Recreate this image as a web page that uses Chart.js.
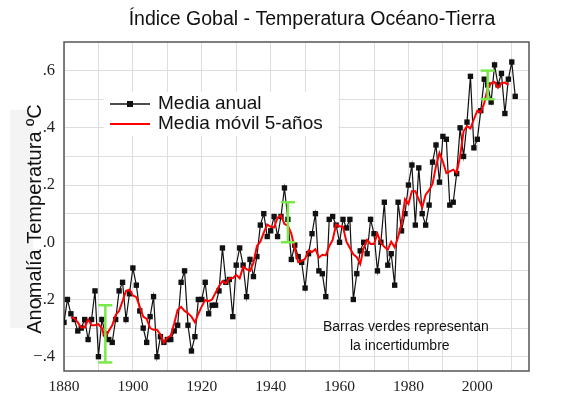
<!DOCTYPE html>
<html>
<head>
<meta charset="utf-8">
<script src="https://cdn.jsdelivr.net/npm/chart.js@4.4.0/dist/chart.umd.min.js"></script>
<style>
  html, body { margin: 0; padding: 0; background: #fff; }
</style>
</head>
<body>
<canvas id="tempChart" width="565" height="416"></canvas>
<script>
// Datos
const firstYear = 1880;
const annual = [
  -0.28, -0.20, -0.25, -0.27, -0.31, -0.30, -0.27, -0.34, -0.27, -0.17,
  -0.40, -0.27, -0.32, -0.34, -0.35, -0.27, -0.17, -0.14, -0.27, -0.18,
  -0.09, -0.15, -0.24, -0.30, -0.35, -0.26, -0.19, -0.40, -0.33, -0.35,
  -0.34, -0.34, -0.31, -0.29, -0.14, -0.10, -0.29, -0.38, -0.33, -0.20,
  -0.20, -0.14, -0.25, -0.22, -0.22, -0.17, -0.02, -0.14, -0.13, -0.26,
  -0.08, -0.02, -0.08, -0.19, -0.06, -0.12, -0.05, 0.06, 0.10, 0.02,
  0.04, 0.09, 0.02, 0.09, 0.19, 0.08, -0.06, -0.01, -0.05, -0.07,
  -0.16, -0.04, 0.03, 0.10, -0.10, -0.11, -0.19, 0.08, 0.09, 0.06,
  0.00, 0.08, 0.05, 0.08, -0.20, -0.11, -0.03, 0.00, -0.04, 0.08,
  0.03, -0.10, 0.00, 0.14, -0.08, -0.04, -0.15, 0.14, 0.04, 0.10,
  0.20, 0.27, 0.06, 0.26, 0.10, 0.06, 0.13, 0.28, 0.34, 0.21,
  0.37, 0.36, 0.13, 0.14, 0.24, 0.40, 0.30, 0.42, 0.58, 0.33,
  0.36, 0.46, 0.57, 0.55, 0.49, 0.62, 0.55, 0.59, 0.45, 0.57,
  0.63, 0.51
];

const firstAvgYear = 1882;
const movingAvg = [
  -0.262, -0.266, -0.280, -0.298, -0.298, -0.270, -0.290, -0.290,
  -0.286, -0.300, -0.336, -0.310, -0.290, -0.254, -0.240, -0.206, -0.170, -0.166,
  -0.186, -0.192, -0.226, -0.260, -0.268, -0.300, -0.306, -0.306, -0.322, -0.352,
  -0.334, -0.326, -0.284, -0.236, -0.226, -0.240, -0.248, -0.260, -0.280, -0.250,
  -0.224, -0.202, -0.206, -0.200, -0.176, -0.154, -0.136, -0.144, -0.126, -0.126,
  -0.114, -0.126, -0.086, -0.094, -0.100, -0.072, -0.014, 0.002, 0.034, 0.062,
  0.054, 0.052, 0.086, 0.094, 0.064, 0.058, 0.030, -0.022, -0.070, -0.066,
  -0.058, -0.028, -0.034, -0.024, -0.054, -0.044, -0.046, -0.014, 0.008, 0.062,
  0.056, 0.054, 0.002, -0.020, -0.042, -0.052, -0.076, -0.020, 0.008, -0.006,
  -0.006, 0.030, -0.002, -0.016, -0.026, 0.002, -0.018, 0.018, 0.066, 0.150,
  0.134, 0.178, 0.178, 0.150, 0.122, 0.166, 0.182, 0.204, 0.266, 0.312,
  0.282, 0.242, 0.248, 0.254, 0.242, 0.300, 0.388, 0.406, 0.398, 0.430,
  0.460, 0.454, 0.486, 0.538, 0.556, 0.560, 0.540, 0.556, 0.558, 0.550
];

// Barras de incertidumbre
const errYears = [1892, 1945, 2003];
const errLow = [-0.42, 0.00, 0.50];
const errHigh = [-0.22, 0.14, 0.60];

// Ejes
const xGridYears = [1880, 1890, 1900, 1910, 1920, 1930, 1940, 1950, 1960, 1970, 1980, 1990, 2000, 2010];
const xLabelYears = [1880, 1900, 1920, 1940, 1960, 1980, 2000];
const yGridValues = [-0.4, -0.3, -0.2, -0.1, 0, 0.1, 0.2, 0.3, 0.4, 0.5, 0.6];
const yTickLabels = ['\u2212.4', '', '\u2212.2', '', '.0', '', '.2', '', '.4', '', '.6'];

const green = '#7be84a';
const sans = '"Liberation Sans", Arial, sans-serif';
const serif = '"Liberation Serif", "Times New Roman", serif';

const annualPts = annual.map((v, i) => ({ x: firstYear + i, y: v }));
const avgPts = movingAvg.map((v, i) => ({ x: firstAvgYear + i, y: v }));

const errSets = errYears.map((yr, i) => ({
  label: 'err' + i,
  data: [{ x: yr, y: errLow[i] }, { x: yr, y: errHigh[i] }],
  borderColor: green,
  borderWidth: 2.5,
  pointStyle: 'line',
  pointRadius: 7,
  pointBorderWidth: 2.5,
  pointBorderColor: green,
  order: 0
}));

// Título, leyenda, notas y marco
const decor = {
  id: 'decor',
  beforeDraw(chart) {
    const c = chart.ctx;
    c.save();
    c.fillStyle = '#fff';
    c.fillRect(0, 0, chart.width, chart.height);
    c.fillStyle = '#f4f4f4';
    c.fillRect(10, 110, 23, 218);
    c.restore();
  },
  beforeDatasetsDraw(chart) {
    const c = chart.ctx;
    const a = chart.chartArea;
    c.save();
    c.fillStyle = '#fff';
    c.fillRect(104, 92, 234, 44);
    c.strokeStyle = '#555';
    c.lineWidth = 1.5;
    c.strokeRect(a.left, a.top, a.right - a.left, a.bottom - a.top);
    c.restore();
  },
  afterDraw(chart) {
    const c = chart.ctx;
    c.save();
    c.fillStyle = '#111';
    c.textBaseline = 'middle';

    c.font = '19.5px ' + sans;
    c.textAlign = 'center';
    c.fillText('Índice Gobal - Temperatura Océano-Tierra', 312, 20);

    c.save();
    c.translate(35, 219);
    c.rotate(-Math.PI / 2);
    c.font = '20px ' + sans;
    c.fillText('Anomalía Temperatura ºC', 0, 0);
    c.restore();

    // leyenda
    c.textAlign = 'left';
    c.strokeStyle = '#111';
    c.lineWidth = 1.3;
    c.beginPath();
    c.moveTo(110, 104);
    c.lineTo(150, 104);
    c.stroke();
    c.fillRect(127, 101, 6, 6);
    c.strokeStyle = '#ff0000';
    c.lineWidth = 2.2;
    c.beginPath();
    c.moveTo(110, 124);
    c.lineTo(150, 124);
    c.stroke();
    c.font = '19px ' + sans;
    c.fillText('Media anual', 158, 104);
    c.fillText('Media móvil 5-años', 158, 124);

    c.font = '14px ' + sans;
    c.fillText('Barras verdes representan', 323, 327);
    c.fillText('la incertidumbre', 350, 346);
    c.restore();
  }
};

new Chart(document.getElementById('tempChart'), {
  type: 'line',
  data: {
    datasets: [
      {
        label: 'Media anual',
        data: annualPts,
        borderColor: '#111',
        borderWidth: 1.2,
        pointStyle: 'rect',
        pointRadius: 3.8,
        pointBackgroundColor: '#111',
        pointBorderColor: '#111',
        pointBorderWidth: 0,
        tension: 0,
        order: 2
      },
      {
        label: 'Media móvil 5-años',
        data: avgPts,
        borderColor: '#ff0000',
        borderWidth: 2,
        pointRadius: 0,
        tension: 0,
        order: 1
      },
      ...errSets
    ]
  },
  options: {
    responsive: false,
    animation: false,
    layout: { padding: { top: 42, right: 36, left: 0, bottom: 0 } },
    plugins: {
      legend: { display: false },
      tooltip: { enabled: false }
    },
    scales: {
      x: {
        type: 'linear',
        min: 1880,
        max: 2015,
        afterFit: s => { s.height = 45; },
        afterBuildTicks: s => { s.ticks = xGridYears.map(v => ({ value: v })); },
        ticks: {
          autoSkip: false,
          maxRotation: 0,
          padding: 7,
          color: '#222',
          font: { family: serif, size: 15.5 },
          callback: v => (xLabelYears.includes(v) ? String(v) : '')
        },
        grid: { color: '#dedede', lineWidth: 1, drawTicks: false },
        border: { display: false }
      },
      y: {
        min: -0.45,
        max: 0.70,
        afterFit: s => { s.width = 64; },
        afterBuildTicks: s => { s.ticks = yGridValues.map(v => ({ value: v })); },
        ticks: {
          autoSkip: false,
          padding: 9,
          color: '#222',
          font: { family: serif, size: 16.5 },
          callback: (v, i) => yTickLabels[i]
        },
        grid: { color: '#dedede', lineWidth: 1, drawTicks: false },
        border: { display: false }
      }
    }
  },
  plugins: [decor]
});
</script>
</body>
</html>
